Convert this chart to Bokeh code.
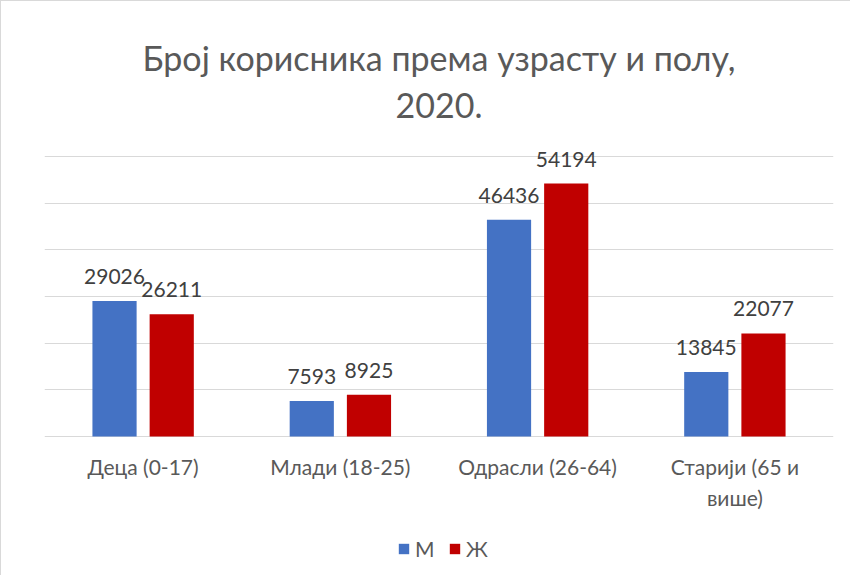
from bokeh.plotting import figure
from bokeh.models import (ColumnDataSource, Range1d, FixedTicker, Legend, LegendItem, FactorRange,
                          LabelSet, Title)
from bokeh.transform import dodge
from bokeh.core.properties import value
from bokeh.embed import file_html
from bokeh.resources import INLINE

categories = ["Деца (0-17)", "Млади (18-25)", "Одрасли (26-64)", "Старији (65 и више)"]
label_line1 = ["Деца (0-17)", "Млади (18-25)", "Одрасли (26-64)", "Старији (65 и"]
label_line2 = ["", "", "", "више)"]
male = [29026, 7593, 46436, 13845]
female = [26211, 8925, 54194, 22077]
series_names = ["М", "Ж"]
y_ticks = [0, 10000, 20000, 30000, 40000, 50000, 60000]
title_lines = ["Број корисника према узрасту и полу,", "2020."]

FONT = "Lato"
BLUE = "#4472C4"
RED = "#C00000"
GRAY = "#595959"

# layout: 0..60000 spans 280 px; frame extends 308 px above 0 and 139 px below it
PX = 60000 / 280
FH = 308 + 139

src = ColumnDataSource(dict(
    cat=categories, m=male, f=female,
    mt=[str(v) for v in male], ft=[str(v) for v in female],
    l1=label_line1, l2=label_line2,
))

p = figure(x_range=FactorRange(*categories), y_range=Range1d(-139 * PX, 308 * PX),
           frame_width=789, frame_height=FH,
           min_border_left=43, min_border_right=17, min_border_top=127, min_border_bottom=0,
           output_backend="svg", toolbar_location=None)
p.styles = {"border-left": "1px solid #d9d9d9", "border-top": "1px solid #d9d9d9"}
p.outline_line_color = None
p.background_fill_color = "white"

p.title = Title(text=title_lines[0], align="center", text_font=FONT, text_font_size="34px",
                text_font_style="normal", text_color=GRAY, standoff=6)
p.add_layout(Title(text=title_lines[1], align="center", text_font=FONT, text_font_size="34px",
                   text_font_style="normal", text_color=GRAY, standoff=21), "above")

bw = 0.224
off = 0.145
rm = p.vbar(x=dodge("cat", -off, range=p.x_range), top="m", width=bw, source=src,
            fill_color=BLUE, line_color=None)
rf = p.vbar(x=dodge("cat", off, range=p.x_range), top="f", width=bw, source=src,
            fill_color=RED, line_color=None)

for col, o in (("mt", -off), ("ft", off)):
    p.add_layout(LabelSet(x=dodge("cat", o, range=p.x_range), y=col[0], text=col, source=src,
                          text_align="center", text_baseline="alphabetic", y_offset=17,
                          text_font=value(FONT), text_font_size="21px", text_color="#404040"))

# category labels (two lines) under the zero line
for col, yo in (("l1", -30), ("l2", -61)):
    p.add_layout(LabelSet(x="cat", y=0, text=col, source=src, y_offset=yo,
                          text_align="center", text_baseline="middle",
                          text_font=value(FONT), text_font_size="21px", text_color=GRAY))

p.xaxis.visible = False
p.yaxis.visible = False
p.ygrid.ticker = FixedTicker(ticks=y_ticks)
p.ygrid.grid_line_color = "#d9d9d9"
p.xgrid.grid_line_color = None

legend = Legend(items=[LegendItem(label=series_names[0], renderers=[rm]),
                       LegendItem(label=series_names[1], renderers=[rf])],
                orientation="horizontal", location=(353, 14),
                glyph_width=13, glyph_height=13, label_text_font=FONT,
                label_text_font_size="21px", label_text_color=GRAY,
                border_line_color=None, background_fill_alpha=0,
                spacing=13, label_standoff=5, padding=0, margin=0)
p.add_layout(legend, "center")

open("out.html", "w").write(file_html(p, INLINE))
